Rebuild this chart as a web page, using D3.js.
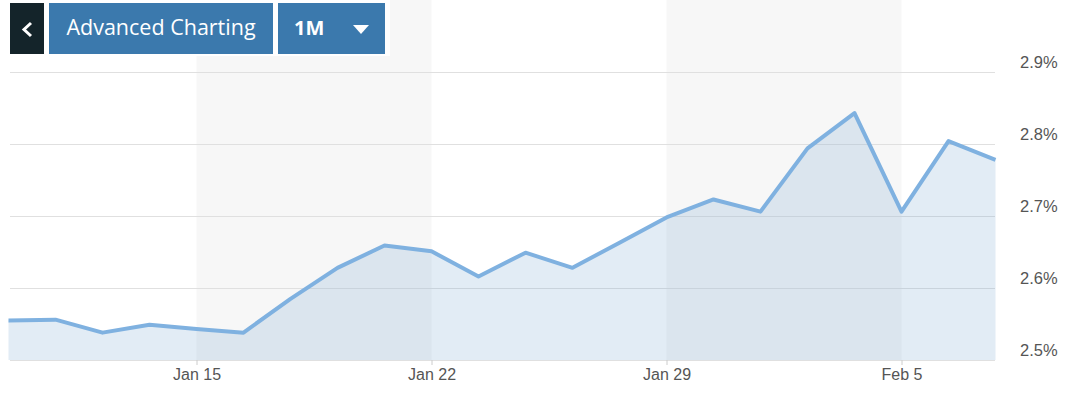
<!DOCTYPE html>
<html>
<head>
  <meta charset="utf-8">
  <title>Yield 1M</title>
  <script src="https://d3js.org/d3.v7.min.js"></script>
  <style>
    body { margin: 0; background: #fff; }
    svg { display: block; font-family: "Open Sans", sans-serif; }
    .grid line { stroke: #e0e0e0; }
    .grid text { fill: #555; font-size: 16.5px; }
    .xaxis line { stroke: #ccc; }
    .xaxis text { fill: #555; font-size: 16px; }
  </style>
</head>
<body>
  <svg id="chart" width="1080" height="399"></svg>
  <script>
    // trading days shown in the 1M window
    var dates = ["2018-01-09", "2018-01-10", "2018-01-11", "2018-01-12",
      "2018-01-15", "2018-01-16", "2018-01-17", "2018-01-18", "2018-01-19",
      "2018-01-22", "2018-01-23", "2018-01-24", "2018-01-25", "2018-01-26",
      "2018-01-29", "2018-01-30", "2018-01-31", "2018-02-01", "2018-02-02",
      "2018-02-05", "2018-02-06", "2018-02-07"];
    var yields = [2.555, 2.556, 2.538, 2.549, 2.543, 2.538, 2.585, 2.628, 2.659,
      2.651, 2.616, 2.649, 2.628, 2.663, 2.698, 2.723, 2.706, 2.794, 2.843,
      2.706, 2.804, 2.778];
    var tickDates = ["2018-01-15", "2018-01-22", "2018-01-29", "2018-02-05"];
    var tickLabels = ["Jan 15", "Jan 22", "Jan 29", "Feb 5"];
    var yTicks = [2.5, 2.6, 2.7, 2.8, 2.9];
    var shadedWeeks = [["2018-01-15", "2018-01-22"], ["2018-01-29", "2018-02-05"]];

    var svg = d3.select("#chart");
    var x = d3.scalePoint().domain(dates).range([8.5, 995.5]);
    var y = d3.scaleLinear().domain([2.5, 2.9]).range([360, 72]);

    // alternating week bands
    svg.append("g").selectAll("rect")
      .data(shadedWeeks)
      .enter().append("rect")
      .attr("x", function (d) { return x(d[0]); })
      .attr("width", function (d) { return x(d[1]) - x(d[0]); })
      .attr("y", 0)
      .attr("height", y(2.5))
      .attr("fill", "#f7f7f7");

    // gridlines + right labels
    var grid = svg.append("g")
      .attr("class", "grid")
      .attr("transform", "translate(10,0)")
      .call(d3.axisRight(y).tickValues(yTicks).tickSize(985).tickPadding(25)
        .tickFormat(function (d) { return d.toFixed(1) + "%"; }));
    grid.select(".domain").remove();
    grid.selectAll("text").attr("dy", "-0.3em");

    var pts = dates.map(function (d, i) { return { date: d, v: yields[i] }; });

    var area = d3.area()
      .x(function (d) { return x(d.date); })
      .y0(y(2.5))
      .y1(function (d) { return y(d.v); });
    var line = d3.line()
      .x(function (d) { return x(d.date); })
      .y(function (d) { return y(d.v); });

    svg.append("path").datum(pts)
      .attr("d", area)
      .attr("fill", "rgba(100,155,200,0.19)");
    svg.append("path").datum(pts)
      .attr("d", line)
      .attr("fill", "none")
      .attr("stroke", "#7fb1e0")
      .attr("stroke-width", 4)
      .attr("stroke-linejoin", "round");

    var xa = svg.append("g")
      .attr("class", "xaxis")
      .attr("transform", "translate(0," + y(2.5) + ")")
      .call(d3.axisBottom(x).tickValues(tickDates).tickSize(5).tickPadding(4)
        .tickFormat(function (d) { return tickLabels[tickDates.indexOf(d)]; }));
    xa.select(".domain").remove();

    // toolbar buttons
    var bar = svg.append("g");
    bar.append("rect").attr("x", 0).attr("y", 0).attr("width", 390).attr("height", 56).attr("fill", "#fff");
    bar.append("rect").attr("x", 10).attr("y", 3).attr("width", 34).attr("height", 51).attr("fill", "#14242a");
    bar.append("path").attr("d", "M31,23 L24,29.5 L31,36")
      .attr("fill", "none").attr("stroke", "#fff").attr("stroke-width", 3);
    bar.append("rect").attr("x", 49).attr("y", 3).attr("width", 224).attr("height", 51).attr("fill", "#3b79ad");
    bar.append("text").attr("x", 161).attr("y", 35).attr("text-anchor", "middle")
      .attr("fill", "#fff").style("font-size", "21.5px").text("Advanced Charting");
    bar.append("rect").attr("x", 278).attr("y", 3).attr("width", 107).attr("height", 51).attr("fill", "#3b79ad");
    bar.append("text").attr("x", 294).attr("y", 35)
      .attr("fill", "#fff").style("font-size", "20px").style("font-weight", "bold").text("1M");
    bar.append("path").attr("d", "M353,25 L369,25 L361,34 Z").attr("fill", "#fff");
  </script>
</body>
</html>
